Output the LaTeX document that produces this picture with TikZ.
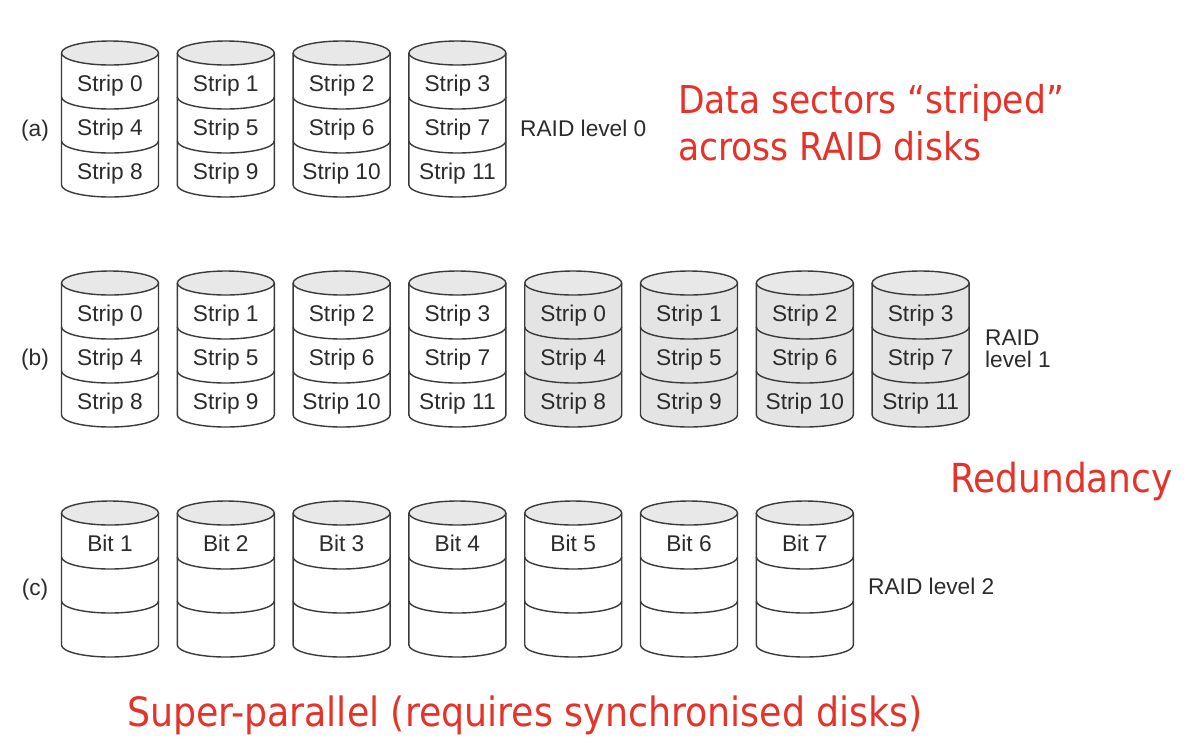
\documentclass[tikz,border=0pt]{standalone}
\usepackage{fontspec}
\setmainfont{Liberation Sans}
\newfontfamily\redfont{DejaVu Sans Condensed}
\definecolor{lineg}{HTML}{3A3A3A}
\definecolor{topgray}{HTML}{E8E8E8}
\definecolor{mirrorgray}{HTML}{E4E4E4}
\definecolor{txtg}{HTML}{2B2B2B}
\definecolor{redtxt}{HTML}{E5332A}
\tikzset{
  diskline/.style={draw=lineg, line width=1.4pt},
  lbl/.style={font=\fontsize{22.7}{24}\selectfont, text=txtg, inner sep=0pt, anchor=base},
  redlbl/.style={text=redtxt, inner sep=0pt, anchor=west, align=left},
  pics/disk/.style={code={
    \fill[#1] (-48.5,0) -- (-48.5,-132) arc[start angle=180,end angle=360,x radius=48.5pt,y radius=12pt] -- (48.5,0) -- cycle;
    \draw[diskline] (-48.5,0) -- (-48.5,-132) arc[start angle=180,end angle=360,x radius=48.5pt,y radius=12pt] -- (48.5,0);
    \draw[diskline, fill=topgray] (0,0) ellipse[x radius=48.5pt,y radius=12pt];
    \draw[diskline] (-48.5,-44) arc[start angle=180,end angle=360,x radius=48.5pt,y radius=12pt];
    \draw[diskline] (-48.5,-88) arc[start angle=180,end angle=360,x radius=48.5pt,y radius=12pt];
  }}
}
\begin{document}
\begin{tikzpicture}[x=1pt,y=1pt]
\useasboundingbox[fill=white] (0,0) rectangle (1192,-748);
% Row (a)
\foreach \i in {0,...,3} {
  \pgfmathsetmacro{\cx}{110+115.8*\i}
  \pic at (\cx,-53) {disk=white};
  \pgfmathtruncatemacro{\sa}{\i}
  \pgfmathtruncatemacro{\sb}{\i+4}
  \pgfmathtruncatemacro{\sc}{\i+8}
  \node[lbl] (a0\i) at (\cx,-91) {Strip \sa};
  \node[lbl] (a1\i) at (\cx,-135) {Strip \sb};
  \node[lbl] (a2\i) at (\cx,-179) {Strip \sc};
}
\node[lbl] (la) at (35,-136) {(a)};
\node[lbl, anchor=base west] (ra) at (520,-136) {RAID level 0};
% Row (b)
\foreach \i in {0,...,7} {
  \pgfmathsetmacro{\cx}{110+115.8*\i}
  \pgfmathtruncatemacro{\k}{mod(\i,4)}
  \ifnum\i<4 \def\fc{white}\else\def\fc{mirrorgray}\fi
  \pic at (\cx,-283) {disk=\fc};
  \pgfmathtruncatemacro{\sa}{\k}
  \pgfmathtruncatemacro{\sb}{\k+4}
  \pgfmathtruncatemacro{\sc}{\k+8}
  \node[lbl] (b0\i) at (\cx,-321) {Strip \sa};
  \node[lbl] (b1\i) at (\cx,-365) {Strip \sb};
  \node[lbl] (b2\i) at (\cx,-409) {Strip \sc};
}
\node[lbl] (lb) at (35,-365) {(b)};
\node[lbl, anchor=base west, align=left, font=\fontsize{22.7}{21.5}\selectfont] (rb) at (985,-367) {RAID\\level 1};
% Row (c)
\foreach \i in {0,...,6} {
  \pgfmathsetmacro{\cx}{110+115.8*\i}
  \pic at (\cx,-513) {disk=white};
  \pgfmathtruncatemacro{\n}{\i+1}
  \node[lbl] (c\i) at (\cx,-551) {Bit \n};
}
\node[lbl] (lc) at (35,-595) {(c)};
\node[lbl, anchor=base west] (rc) at (868,-594) {RAID level 2};
% Red annotations
\node[redlbl, font=\redfont\fontsize{38.4}{47}\selectfont] (t1) at (678,-123) {Data sectors “striped”\\across RAID disks};
\node[redlbl, font=\redfont\fontsize{40}{47}\selectfont] (t2) at (950,-481) {Redundancy};
\node[redlbl, font=\redfont\fontsize{40.4}{47}\selectfont] (t3) at (127,-715) {Super-parallel (requires synchronised disks)};
\end{tikzpicture}
\end{document}
